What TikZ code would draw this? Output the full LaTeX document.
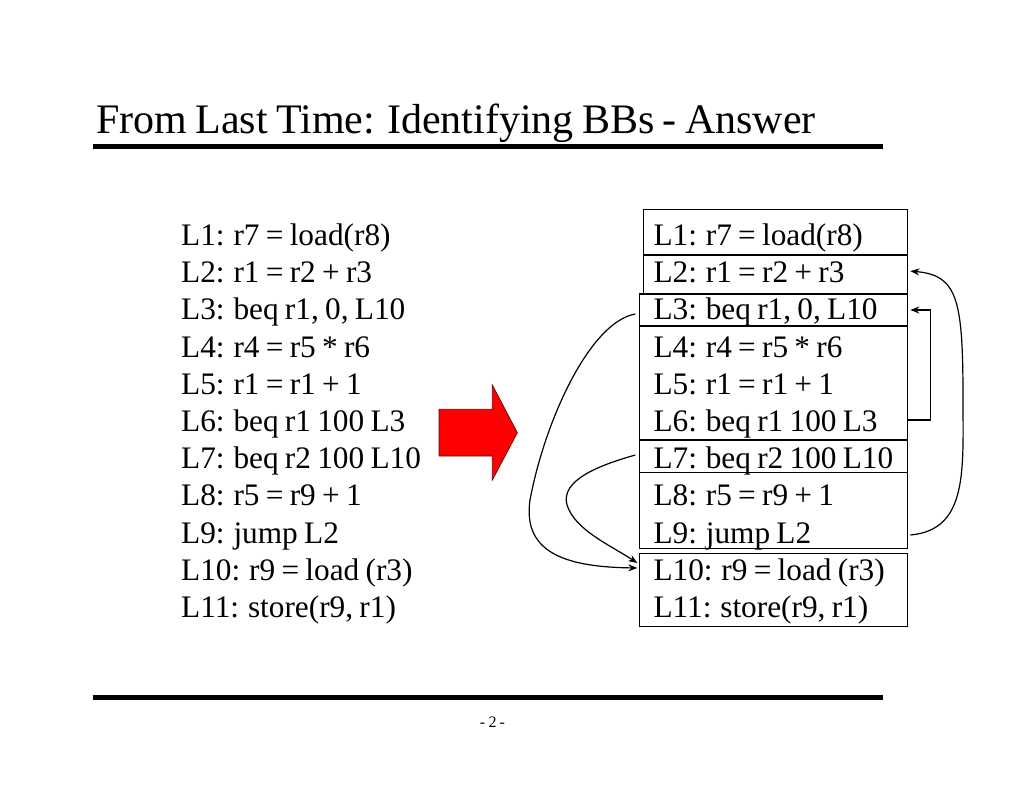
\documentclass[tikz,border=0pt]{standalone}
\usepackage{fontspec}
\setmainfont[WordSpace=0.8]{Liberation Serif}
\usetikzlibrary{arrows.meta}
\begin{document}
\begin{tikzpicture}[x=1pt,y=-1pt,
  code/.style={anchor=base west, inner sep=0pt, font=\fontsize{31.3}{38}\selectfont},
  bbox/.style={draw, line width=1.3pt, anchor=north west, inner sep=0pt, outer sep=0pt, minimum width=#1},
  bbox/.default=268pt,
  flow/.style={line width=1.2pt, -{Stealth[length=9pt,width=7pt]}},
  rule/.style={line width=5pt}]
\useasboundingbox (0,0) rectangle (1024,791);
% title
\node[anchor=base west, inner sep=0pt, font=\fontsize{42}{50}\selectfont] (title) at (96,133.3) {From Last Time: Identifying BBs - Answer};
\draw[rule] (92.7,146.8) -- (882.7,146.8);
\draw[rule] (92.7,697.5) -- (882.7,697.5);
\node[anchor=base, inner sep=0pt, font=\fontsize{16}{19}\selectfont] (pg) at (492.5,727) {- 2 -};
% left listing
\node[code] (L1) at (181,245.5) {L1: r7 = load(r8)};
\node[code] (L2) at (181,282.7) {L2: r1 = r2 + r3};
\node[code] (L3) at (181,319.9) {L3: beq r1, 0, L10};
\node[code] (L4) at (181,357.1) {L4: r4 = r5 * r6};
\node[code] (L5) at (181,394.3) {L5: r1 = r1 + 1};
\node[code] (L6) at (181,431.5) {L6: beq r1 100 L3};
\node[code] (L7) at (181,468.7) {L7: beq r2 100 L10};
\node[code] (L8) at (181,505.9) {L8: r5 = r9 + 1};
\node[code] (L9) at (181,543.1) {L9: jump L2};
\node[code] (L10) at (181,580.3) {L10: r9 = load (r3)};
\node[code] (L11) at (181,617.5) {L11: store(r9, r1)};
% red arrow
\draw[fill=red, draw=red!45!black, line width=0.8pt] (439,409.3) -- (492.3,409.3) -- (492.3,385) -- (517.3,432.7) -- (492.3,480) -- (492.3,456) -- (439,456) -- cycle;
% boxes
\node[bbox=263.6pt, minimum height=45.7pt] (B1) at (643.7,209.3) {};
\node[bbox=263.6pt, minimum height=38.3pt] (B2) at (643.7,255) {};
\node[bbox, minimum height=32pt] (B3) at (639.3,294) {};
\node[bbox, minimum height=114pt] (B4) at (639.3,326) {};
\node[bbox, minimum height=32.7pt] (B5) at (639.3,440) {};
\node[bbox, minimum height=75.6pt] (B6) at (639.3,472.7) {};
\node[bbox, minimum height=73.4pt] (B7) at (639.3,553.3) {};
% right listing
\node[code] (R1) at (653.3,245.5) {L1: r7 = load(r8)};
\node[code] (R2) at (653.3,282.7) {L2: r1 = r2 + r3};
\node[code] (R3) at (653.3,319.9) {L3: beq r1, 0, L10};
\node[code] (R4) at (653.3,357.1) {L4: r4 = r5 * r6};
\node[code] (R5) at (653.3,394.3) {L5: r1 = r1 + 1};
\node[code] (R6) at (653.3,431.5) {L6: beq r1 100 L3};
\node[code] (R7) at (653.3,468.7) {L7: beq r2 100 L10};
\node[code] (R8) at (653.3,505.9) {L8: r5 = r9 + 1};
\node[code] (R9) at (653.3,543.1) {L9: jump L2};
\node[code] (R10) at (653.3,580.3) {L10: r9 = load (r3)};
\node[code] (R11) at (653.3,617.5) {L11: store(r9, r1)};
% connectors
\draw[flow] (B4.east |- 0,420) -- ++(23.4,0) |- ([xshift=3pt]B3.east);
\draw[flow] ([xshift=3pt]B6.east |- 0,535) .. controls (968,530) and (963,470) .. (963,400)
  .. controls (963,300) and (958,275) .. ([xshift=3pt,yshift=3pt]B2.east);
\draw[flow] ([xshift=-4pt]B3.west |- 0,314) .. controls (590,322) and (545,420) .. (530,500)
  .. controls (522,555) and (570,567) .. ([xshift=-2pt]B7.west |- 0,568);
\draw[flow] ([xshift=-4pt]B5.west |- 0,455) .. controls (600,465) and (560,480) .. (567,505)
  .. controls (575,530) and (610,545) .. ([xshift=-2pt]B7.west |- 0,563);
\end{tikzpicture}
\end{document}
